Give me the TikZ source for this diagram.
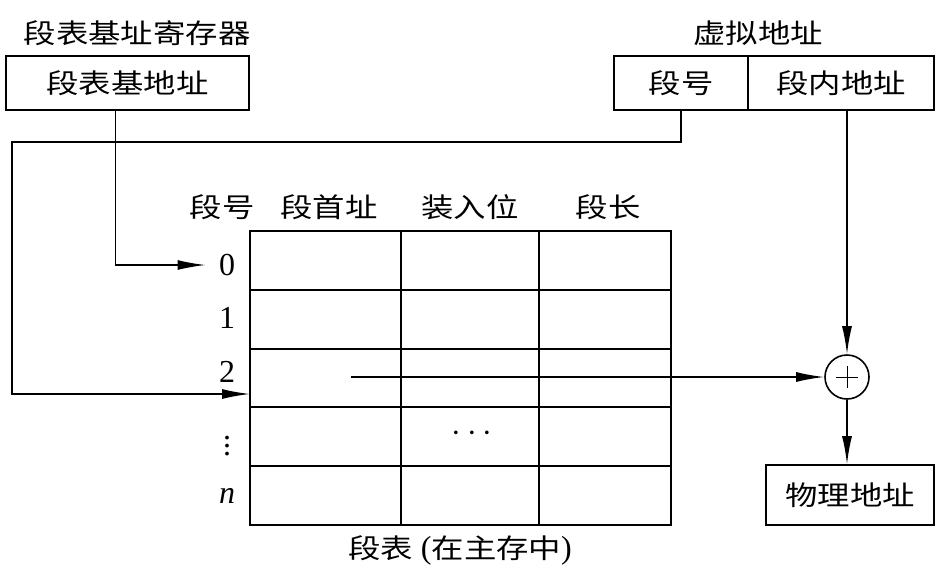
\documentclass[tikz,border=0pt]{standalone}
\usepackage{fontspec}
\setmainfont{Liberation Serif}
\newfontfamily\cjk[FakeStretch=1.2]{Noto Sans CJK SC}
\usetikzlibrary{arrows.meta}
\begin{document}
\begin{tikzpicture}[x=0.5pt, y=-0.5pt, font=\fontsize{13.5pt}{16pt}\selectfont\cjk, line width=0.8pt, >={Latex[length=14pt,width=5pt]},
	box/.style={draw, inner sep=0pt, minimum height=27pt},
	num/.style={font=\fontsize{16pt}{18pt}\selectfont\rmfamily}]
	\useasboundingbox (0,0) rectangle (942,574);
	% registers and addresses
	\node (reglbl) at (137,33) {段表基址寄存器};
	\node[box, minimum width=121.5pt] (regbox) at (127.5,83) {段表基地址};
	\node (vlbl) at (758,33) {虚拟地址};
	\node[box, minimum width=67pt] (segno) at (681,83) {段号};
	\node[box, minimum width=93pt] (offset) at (841,83) {段内地址};
	\node[box, minimum width=84pt, minimum height=30pt] (phys) at (850,495) {物理地址};
	\node[draw, circle, minimum size=22pt, inner sep=0pt] (adder) at (847,377) {};
	\draw[line width=0.5pt] ([xshift=-5.5pt]adder.center) -- ([xshift=5.5pt]adder.center);
	\draw[line width=0.5pt] ([yshift=-5.5pt]adder.center) -- ([yshift=5.5pt]adder.center);
	% segment table
	\coordinate (tblNW) at (250,231);
	\coordinate (tblSE) at (671,525);
	\draw (tblNW) rectangle (tblSE);
	\foreach \y in {290,349,407,466} \draw (250,\y) -- (671,\y);
	\foreach \x in {401,539} \draw (\x,231) -- (\x,525);
	\node (h0) at (222,207) {段号};
	\node (h1) at (329,207) {段首址};
	\node (h2) at (470,207) {装入位};
	\node (h3) at (608,207) {段长};
	\node[num] (r0) at (227,265) {0};
	\node[num] (r1) at (227,318) {1};
	\node[num] (r2) at (227,372) {2};
	\node[num, inner sep=0pt] (r3) at (227,440) {$\vdots$};
	\node[num] (rn) at (227,496) {\textit{n}};
	\node[num] (dots) at (472,434) {$\cdots$};
	\node[num] (cap) at (460,550) {{\cjk\fontsize{13.5pt}{16pt}\selectfont 段表} ({\cjk\fontsize{13.5pt}{16pt}\selectfont 在主存中})};
	% connectors
	\coordinate (bendL) at (12,142);
	\coordinate (in2) at (250,394);
	\coordinate (s2) at (351,377);
	\draw[->] ([xshift=-6pt]regbox.south) |- ([xshift=-3pt]r0.west);
	\draw[->] (segno.south) |- (bendL) |- (in2);
	\draw[->] (s2) -- (adder.west);
	\draw[->] (offset.south -| adder.north) -- (adder.north);
	\draw[->] (adder.south) -- (adder.south |- phys.north);
\end{tikzpicture}
\end{document}
